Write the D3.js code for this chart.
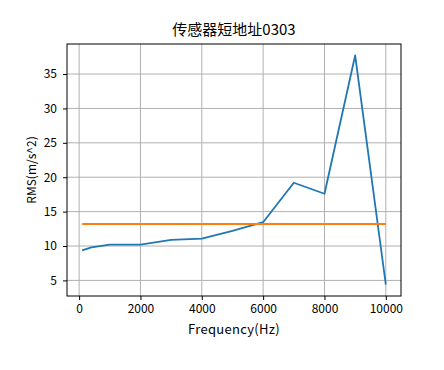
<!DOCTYPE html>
<html>
<head>
<meta charset="utf-8">
<script src="https://cdn.jsdelivr.net/npm/d3@7"></script>
<style>
    body { margin: 0; background: #fff; }
    svg { font-family: "Noto Sans CJK SC", "DejaVu Sans", sans-serif; }
</style>
</head>
<body>
<svg id="grafico" width="444" height="370"></svg>
<script>
"use strict";

// valores
var frequencias = [100, 400, 1000, 2000, 3000, 4000, 5000, 6000, 7000, 8000, 9000, 10000];
var rms = [9.37, 9.8, 10.2, 10.2, 10.88, 11.08, 12.2, 13.46, 19.2, 17.6, 37.7, 4.4];
var rmsMedio = 13.2;

var ticksX = [0, 2000, 4000, 6000, 8000, 10000];
var ticksY = [5, 10, 15, 20, 25, 30, 35];

var titulo = "传感器短地址0303";
var rotuloX = "Frequency(Hz)";
var rotuloY = "RMS(m/s^2)";

var esq = 67, dir = 401, topo = 44, base = 296;

var svg = d3.select("#grafico");

// margem de 5% como no matplotlib
function dominio(valores) {
    var ext = d3.extent(valores);
    var m = (ext[1] - ext[0]) * 0.05;
    return [ext[0] - m, ext[1] + m];
}

var x = d3.scaleLinear().domain(dominio(frequencias)).range([esq, dir]);
var y = d3.scaleLinear().domain(dominio(rms)).range([base, topo]);

// grade
var grade = svg.append("g");
grade.selectAll("line.gx")
    .data(ticksX)
    .enter().append("line")
    .attr("x1", d => x(d)).attr("x2", d => x(d))
    .attr("y1", topo).attr("y2", base)
    .attr("stroke", "#b0b0b0").attr("stroke-width", 1);
grade.selectAll("line.gy")
    .data(ticksY)
    .enter().append("line")
    .attr("y1", d => y(d)).attr("y2", d => y(d))
    .attr("x1", esq).attr("x2", dir)
    .attr("stroke", "#b0b0b0").attr("stroke-width", 1);

// eixos
var eixoX = svg.append("g")
    .attr("transform", "translate(0," + base + ")")
    .call(d3.axisBottom(x).tickValues(ticksX).tickFormat(d3.format("d")).tickSize(4).tickPadding(4));
var eixoY = svg.append("g")
    .attr("transform", "translate(" + esq + ",0)")
    .call(d3.axisLeft(y).tickValues(ticksY).tickFormat(d3.format("d")).tickSize(4).tickPadding(6));

[eixoX, eixoY].forEach(function (g) {
    g.select(".domain").remove();
    g.selectAll("text").attr("font-size", 12).attr("fill", "#000")
        .attr("font-family", "Noto Sans CJK SC");
    g.selectAll("line").attr("stroke", "#000");
});

// linhas dos dados
var linha = d3.line()
    .x(function (d, i) { return x(frequencias[i]); })
    .y(function (d) { return y(d); });

svg.append("path")
    .datum(rms)
    .attr("d", linha)
    .attr("fill", "none")
    .attr("stroke", "#1f77b4")
    .attr("stroke-width", 1.8)
    .attr("stroke-linejoin", "round");

svg.append("line")
    .attr("x1", x(frequencias[0]))
    .attr("x2", x(frequencias[frequencias.length - 1]))
    .attr("y1", y(rmsMedio))
    .attr("y2", y(rmsMedio))
    .attr("stroke", "#ff7f0e")
    .attr("stroke-width", 1.8);

// moldura
svg.append("rect")
    .attr("x", esq).attr("y", topo)
    .attr("width", dir - esq).attr("height", base - topo)
    .attr("fill", "none").attr("stroke", "#000").attr("stroke-width", 1);

// textos
svg.append("text")
    .attr("x", (esq + dir) / 2).attr("y", 35)
    .attr("text-anchor", "middle")
    .attr("font-size", 15)
    .text(titulo);

svg.append("text")
    .attr("x", (esq + dir) / 2).attr("y", 334)
    .attr("text-anchor", "middle")
    .attr("font-size", 13)
    .attr("letter-spacing", 0.3)
    .text(rotuloX);

svg.append("text")
    .attr("transform", "translate(36," + (topo + base) / 2 + ") rotate(-90)")
    .attr("text-anchor", "middle")
    .attr("font-size", 12)
    .text(rotuloY);
</script>
</body>
</html>
